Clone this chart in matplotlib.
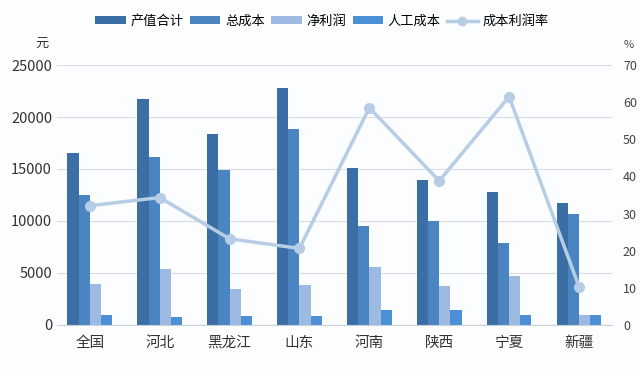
import numpy as np
import matplotlib
matplotlib.use('Agg')
import matplotlib.pyplot as plt
from matplotlib.lines import Line2D

plt.rcParams['font.family'] = ['Noto Sans CJK SC', 'DejaVu Sans']

regions = ['全国', '河北', '黑龙江', '山东', '河南', '陕西', '宁夏', '新疆']
output_value = [16550, 21700, 18330, 22790, 15130, 13910, 12760, 11760]
total_cost = [12530, 16120, 14940, 18880, 9550, 10000, 7880, 10640]
net_profit = [3940, 5420, 3430, 3850, 5550, 3750, 4740, 960]
labor_cost = [960, 770, 870, 870, 1440, 1440, 960, 960]
profit_rate = [32.1, 34.3, 23.2, 20.6, 58.5, 38.8, 61.5, 10.3]

bar_names = ['产值合计', '总成本', '净利润', '人工成本']
bar_colors = ['#3a6ea5', '#4a85c1', '#9dbbe2', '#4d8fd5']
line_color = '#b7cde6'

fig = plt.figure(figsize=(6.4, 3.76), dpi=100)
fig.patch.set_facecolor('#fcfdfe')
ax = fig.add_axes([0.089, 0.136, 0.867, 0.691])
ax.set_facecolor('#fcfdfe')

x = np.arange(len(regions))
w = 0.16
series = [output_value, total_cost, net_profit, labor_cost]
for i, (vals, c, n) in enumerate(zip(series, bar_colors, bar_names)):
    ax.bar(x + (i - 1.5) * w, vals, w, color=c, label=n, zorder=2)

ax.set_ylim(0, 25000)
ax.set_yticks(range(0, 25001, 5000))
ax.set_xlim(-0.47, 7.47)
ax.set_xticks(x)
ax.set_xticklabels(regions, fontsize=9.5, color='#222222')
ax.grid(axis='y', color='#d9dde3', linewidth=0.8, zorder=0)
for s in ['top', 'right', 'left']:
    ax.spines[s].set_visible(False)
ax.spines['bottom'].set_color('#c8d0da')
ax.tick_params(axis='both', length=0, labelsize=10.5, colors='#333333')
ax.tick_params(axis='x', pad=8)

ax2 = ax.twinx()
ax2.plot(x, profit_rate, color=line_color, linewidth=2.5, marker='o',
         markersize=7, zorder=3)
ax2.set_ylim(0, 70)
ax2.set_yticks(range(0, 71, 10))
for s in ['top', 'right', 'left', 'bottom']:
    ax2.spines[s].set_visible(False)
ax2.tick_params(axis='y', length=0, labelsize=9, colors='#444444', pad=8)

fig.text(0.065, 0.875, '元', fontsize=9.5, color='#333333', ha='center')
fig.text(0.982, 0.872, '%', fontsize=8, color='#444444', ha='center')

handles, labels = ax.get_legend_handles_labels()
handles.append(Line2D([], [], color=line_color, linewidth=2.5, marker='o', markersize=6))
labels.append('成本利润率')
fig.legend(handles, labels, loc='center', bbox_to_anchor=(0.503, 0.943), ncol=5,
           frameon=False, fontsize=9.5, handlelength=2.3, handleheight=0.6,
           columnspacing=0.5, handletextpad=0.35)

fig.savefig('out.png', dpi=100, facecolor=fig.get_facecolor())
